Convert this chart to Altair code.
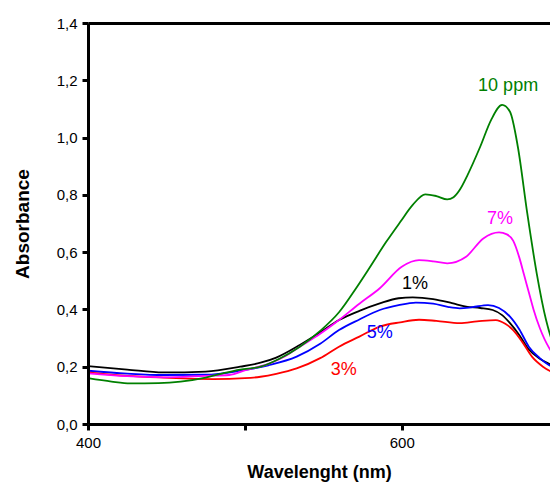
import altair as alt
import pandas as pd

# ---- data ----
wl_1 = [400, 425, 448, 475, 497, 510, 520, 535, 548, 560, 573, 586, 598, 607, 620, 632, 641, 650, 658, 664, 669, 675, 681, 688, 694, 700]
ab_1 = [0.202, 0.19, 0.18, 0.183, 0.20, 0.214, 0.232, 0.276, 0.32, 0.363, 0.395, 0.421, 0.439, 0.442, 0.436, 0.422, 0.41, 0.405, 0.398, 0.38, 0.352, 0.31, 0.26, 0.228, 0.21, 0.195]

wl_5 = [400, 425, 448, 475, 497, 515, 533, 548, 560, 573, 586, 598, 609, 620, 630, 637, 645, 655, 662, 669, 675, 681, 688, 694, 700]
ab_5 = [0.186, 0.176, 0.171, 0.172, 0.186, 0.205, 0.235, 0.28, 0.328, 0.365, 0.398, 0.415, 0.424, 0.42, 0.408, 0.404, 0.408, 0.415, 0.405, 0.375, 0.33, 0.27, 0.23, 0.205, 0.19]

wl_3 = [400, 425, 448, 480, 500, 510, 520, 533, 548, 560, 573, 586, 599, 611, 622, 637, 648, 660, 666, 671, 677, 683, 690, 700]
ab_3 = [0.18, 0.168, 0.162, 0.157, 0.16, 0.165, 0.175, 0.194, 0.23, 0.27, 0.305, 0.34, 0.355, 0.364, 0.36, 0.352, 0.358, 0.363, 0.35, 0.328, 0.285, 0.235, 0.2, 0.172]

wl_7 = [400, 425, 448, 475, 490, 501, 515, 525, 535, 548, 560, 573, 586, 600, 611, 620, 629, 641, 652, 662, 667, 671, 675, 678, 681, 684, 688, 694, 700]
ab_7 = [0.177, 0.167, 0.163, 0.168, 0.171, 0.189, 0.21, 0.235, 0.27, 0.315, 0.363, 0.42, 0.474, 0.549, 0.572, 0.568, 0.561, 0.584, 0.648, 0.669, 0.662, 0.64, 0.58, 0.52, 0.46, 0.40, 0.335, 0.265, 0.225]

wl_10 = [400, 415, 427, 445, 459, 475, 486, 497, 510, 522, 535, 548, 560, 571, 580, 590, 599, 607, 615, 622, 629, 633, 637, 642, 650, 657, 664, 669, 674, 680, 686, 692, 698, 700]
ab_10 = [0.16, 0.148, 0.142, 0.143, 0.148, 0.162, 0.177, 0.19, 0.2, 0.228, 0.27, 0.325, 0.39, 0.475, 0.55, 0.635, 0.705, 0.765, 0.802, 0.796, 0.784, 0.792, 0.818, 0.87, 0.968, 1.062, 1.114, 1.09, 0.968, 0.736, 0.527, 0.363, 0.26, 0.24]

series_names = ["10 ppm", "7%", "1%", "5%", "3%"]
series_colors = ["#008000", "#ff00ff", "#000000", "#0000ff", "#ff0000"]

label_text = ["10 ppm", "7%", "1%", "5%", "3%"]
label_wl = [667.8, 662.7, 608.5, 586, 563]
label_ab = [1.18, 0.716, 0.489, 0.318, 0.189]

y_ticks = [i / 10 for i in range(15)]
x_ticks = [400, 500, 600]

# ---- build table ----
rows = []
for name, wl, ab in [("1%", wl_1, ab_1), ("5%", wl_5, ab_5), ("3%", wl_3, ab_3),
                     ("7%", wl_7, ab_7), ("10 ppm", wl_10, ab_10)]:
    for w, a in zip(wl, ab):
        rows.append({"series": name, "wl": w, "ab": a})
df = pd.DataFrame(rows)
labels = pd.DataFrame({"series": label_text, "wl": label_wl, "ab": label_ab})

FONT = "Liberation Sans"
xscale = alt.Scale(domain=[400, 694.5], nice=False, zero=False)
yscale = alt.Scale(domain=[0, 1.4], nice=False)
cscale = alt.Scale(domain=series_names, range=series_colors)

y_major = "round(datum.value*10) % 2 == 0"
x_major = "datum.value == 400 || datum.value == 600"

lines = alt.Chart(df).mark_line(interpolate="monotone", strokeWidth=1.8, clip=True).encode(
    x=alt.X("wl:Q", scale=xscale,
            axis=alt.Axis(title="Wavelenght (nm)", orient="bottom",
                          values=x_ticks,
                          labelExpr="(" + x_major + ") ? datum.label : ''",
                          format="d", grid=False, domainWidth=3, tickWidth=3, tickSize=6,
                          labelFlush=False, labelOverlap=False,
                          labelFontSize=15, labelPadding=5, titlePadding=13, titleFontSize=18,
                          zindex=1)),
    y=alt.Y("ab:Q", scale=yscale,
            axis=alt.Axis(title="Absorbance", values=y_ticks,
                          labelExpr="(" + y_major + ") ? replace(format(datum.value, '.1f'), '.', ',') : ''",
                          grid=False, domainWidth=3, tickWidth=3, tickSize=6,
                          labelFlush=False, labelOverlap=False,
                          labelFontSize=15, labelPadding=5, titlePadding=24, titleFontSize=19,
                          zindex=1)),
    color=alt.Color("series:N", scale=cscale, legend=None),
    detail="series:N",
)

texts = alt.Chart(labels).mark_text(font=FONT, fontSize=18).encode(
    x=alt.X("wl:Q", scale=xscale,
            axis=alt.Axis(orient="top", title=None, labels=False, ticks=False, grid=False,
                          domainWidth=3, zindex=1)),
    y=alt.Y("ab:Q", scale=yscale),
    text="series:N",
    color=alt.Color("series:N", scale=cscale, legend=None),
)

chart = alt.layer(lines, texts).resolve_axis(x="independent").properties(
    width=462, height=401,
    autosize=alt.AutoSizeParams(type="none"),
    padding={"left": 80, "top": 15, "right": 0, "bottom": 58},
).configure_view(strokeWidth=0).configure_axis(
    domainColor="black", tickColor="black", labelColor="black", titleColor="black",
    labelFont=FONT, titleFont=FONT, titleFontWeight="bold",
)

chart.save("out.html", embed_options={"renderer": "svg", "actions": False})
